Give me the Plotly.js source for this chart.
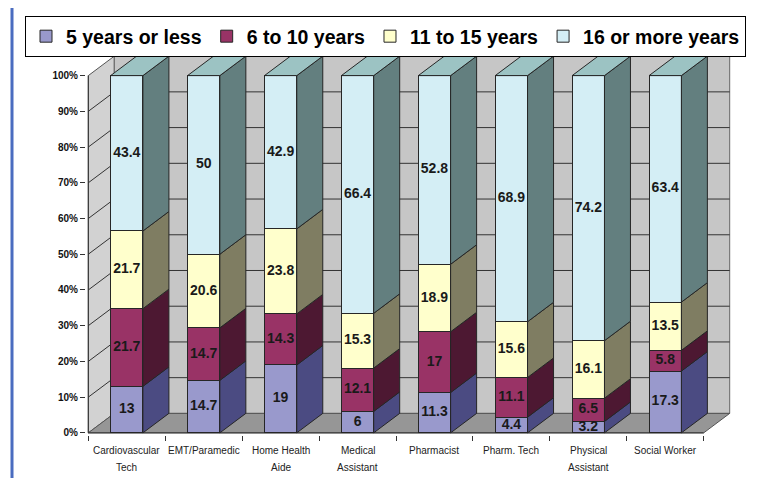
<!DOCTYPE html>
<html><head><meta charset="utf-8">
<script src="https://cdn.plot.ly/plotly-3.0.1.min.js"></script>
<style>html,body{margin:0;padding:0;background:#fff}#chart{width:761px;height:485px}</style>
</head><body><div id="chart"></div>
<script>
// ---- data ----
const categories = ["Cardiovascular Tech","EMT/Paramedic","Home Health Aide","Medical Assistant","Pharmacist","Pharm. Tech","Physical Assistant","Social Worker"];
const labelLine1 = ["Cardiovascular","EMT/Paramedic","Home Health","Medical","Pharmacist","Pharm. Tech","Physical","Social Worker"];
const labelLine2 = ["Tech","","Aide","Assistant","","","Assistant",""];
const seriesNames = ["5 years or less","6 to 10 years","11 to 15 years","16 or more years"];
const years5OrLess  = [13, 14.7, 19, 6, 11.3, 4.4, 3.2, 17.3];
const years6to10    = [21.7, 14.7, 14.3, 12.1, 17, 11.1, 6.5, 5.8];
const years11to15   = [21.7, 20.6, 23.8, 15.3, 18.9, 15.6, 16.1, 13.5];
const years16OrMore = [43.4, 50, 42.9, 66.4, 52.8, 68.9, 74.2, 63.4];
const yTickVals = [0,10,20,30,40,50,60,70,80,90,100];
const yTickText = yTickVals.map(v => v + '%');

// ---- styles ----
const series = [years5OrLess, years6to10, years11to15, years16OrMore];
const frontColors = ['#9999cc','#993366','#ffffcc','#d4eef5'];
const sideColors  = ['#4b4b82','#4d1832','#7f7d62','#637f7f'];
const topColor = '#9cc3c3';
const edge = '#262626';
const FONT = 'Liberation Sans, Arial, sans-serif';
const W = 0.42;      // bar width (category units)
const DX = 0.338;    // depth offset in x (category units)
const DY = 5.45;     // depth offset in y (percent units)
const PX = 0.03, PY = 0.6;
const n = categories.length;
const idx = categories.map((_, i) => i);

// normalised (100% stacked) values
const totals = idx.map(i => series.reduce((a, s) => a + s[i], 0));
const norm = series.map(s => s.map((v, i) => v / totals[i] * 100));
const bases = series.map((s, k) => idx.map(i => { let b = 0; for (let j = 0; j < k; j++) b += norm[j][i]; return b; }));

const traces = [];
// front faces
series.forEach((s, k) => {
  traces.push({
    type: 'bar', x: idx, y: s, name: seriesNames[k], width: W,
    marker: { color: frontColors[k], line: { color: edge, width: 1 } },
    hoverinfo: 'skip'
  });
});
// side faces
series.forEach((s, k) => {
  const xs = [], ys = [];
  idx.forEach(i => {
    const x0 = i + W / 2, b = bases[k][i], t = b + norm[k][i];
    xs.push(x0, x0 + DX, x0 + DX, x0, x0, null);
    ys.push(b, b + DY, t + DY, t, b, null);
  });
  traces.push({ type: 'scatter', mode: 'lines', x: xs, y: ys, fill: 'toself', fillcolor: sideColors[k],
    line: { color: edge, width: 1 }, showlegend: false, hoverinfo: 'skip' });
});
// top faces
(function () {
  const xs = [], ys = [];
  idx.forEach(i => {
    const top = bases[3][i] + norm[3][i];
    xs.push(i - W / 2, i + W / 2, i + W / 2 + DX, i - W / 2 + DX, i - W / 2, null);
    ys.push(top, top, top + DY, top + DY, top, null);
  });
  traces.push({ type: 'scatter', mode: 'lines', x: xs, y: ys, fill: 'toself', fillcolor: topColor,
    line: { color: edge, width: 1 }, showlegend: false, hoverinfo: 'skip' });
})();
// data labels
series.forEach((s, k) => {
  traces.push({ type: 'scatter', mode: 'text', x: idx, y: idx.map(i => bases[k][i] + norm[k][i] / 2),
    text: s.map(v => String(v)), textposition: 'middle center', cliponaxis: false,
    textfont: { family: FONT, size: 14, weight: 'bold', color: '#1a1a1a' },
    showlegend: false, hoverinfo: 'skip' });
});

// walls and axes as shapes
const L = -0.5, R = n - 0.5;
const shapes = [];
shapes.push({ type: 'path', layer: 'below', xref: 'x', yref: 'y',
  path: `M${L},0 L${L + DX},${DY} L${L + DX},${100 + DY} L${L},100 Z`, fillcolor: '#d2d2d2', line: { color: '#555', width: 1 } });
shapes.push({ type: 'rect', layer: 'below', xref: 'x', yref: 'y', x0: L + DX, x1: R + DX, y0: DY, y1: 100 + DY,
  fillcolor: '#c6c6c6', line: { color: '#666', width: 1 } });
shapes.push({ type: 'path', layer: 'below', xref: 'x', yref: 'y',
  path: `M${L},0 L${R},0 L${R + DX},${DY} L${L + DX},${DY} Z`, fillcolor: '#969696', line: { color: '#555', width: 1 } });
yTickVals.slice(1, -1).forEach(v => {
  shapes.push({ type: 'line', layer: 'below', xref: 'x', yref: 'y', x0: L + DX, x1: R + DX, y0: v + DY, y1: v + DY, line: { color: '#333', width: 1 } });
  shapes.push({ type: 'line', layer: 'below', xref: 'x', yref: 'y', x0: L, x1: L + DX, y0: v, y1: v + DY, line: { color: '#333', width: 1 } });
});
shapes.push({ type: 'line', layer: 'below', xref: 'x', yref: 'y', x0: L, x1: L, y0: 0, y1: 100, line: { color: '#333', width: 1 } });
shapes.push({ type: 'line', layer: 'below', xref: 'x', yref: 'y', x0: L, x1: R, y0: 0, y1: 0, line: { color: '#333', width: 1 } });
// blue page rule on the left
const plotL = 86, plotR = 29, plotT = 54, plotB = 50;
const pw = 761 - plotL - plotR, ph = 485 - plotT - plotB;
shapes.push({ type: 'line', xref: 'paper', yref: 'paper', x0: (12 - plotL) / pw, x1: (12 - plotL) / pw,
  y0: (485 - plotB - 8) / ph, y1: (485 - plotB - 478) / ph, line: { color: '#4a6cc0', width: 3 } });

// category labels
const annotations = [];
idx.forEach(i => {
  annotations.push({ x: i, y: 0, xref: 'x', yref: 'y', text: labelLine1[i], showarrow: false, yanchor: 'middle', yshift: -18,
    font: { family: FONT, size: 10, color: '#222' } });
  if (labelLine2[i]) annotations.push({ x: i, y: 0, xref: 'x', yref: 'y', text: labelLine2[i], showarrow: false, yanchor: 'middle', yshift: -35,
    font: { family: FONT, size: 10, color: '#222' } });
});

const boundaries = idx.map(i => i - 0.5).concat([n - 0.5]);

const layout = {
  width: 761, height: 485,
  margin: { l: plotL, r: plotR, t: plotT, b: plotB, pad: 0 },
  paper_bgcolor: '#fff', plot_bgcolor: '#fff',
  barmode: 'stack', barnorm: 'percent',
  hovermode: false,
  font: { family: FONT, color: '#000' },
  xaxis: { range: [L - PX, R + DX + PX], tickmode: 'array', tickvals: boundaries, showticklabels: false,
    ticks: 'outside', ticklen: 5, tickcolor: '#333', showgrid: false, zeroline: false, showline: false, fixedrange: true },
  yaxis: { range: [-PY, 100 + DY + PY], tickmode: 'array', tickvals: yTickVals, ticktext: yTickText,
    ticks: 'outside', ticklen: 5, tickcolor: '#333', showgrid: false, zeroline: false, showline: false,
    tickfont: { family: FONT, size: 10, weight: 'bold', color: '#111' }, fixedrange: true },
  showlegend: true,
  legend: { orientation: 'h', x: (25 - plotL) / pw, xanchor: 'left', y: (485 - plotB - 16) / ph, yanchor: 'top',
    bordercolor: '#000', borderwidth: 1, bgcolor: '#fff', traceorder: 'normal', itemwidth: 30,
    font: { family: FONT, size: 19.5, weight: 'bold', color: '#000' } },
  shapes: shapes, annotations: annotations
};

Plotly.newPlot('chart', traces, layout, { displayModeBar: false, staticPlot: true });
</script>
</body></html>
